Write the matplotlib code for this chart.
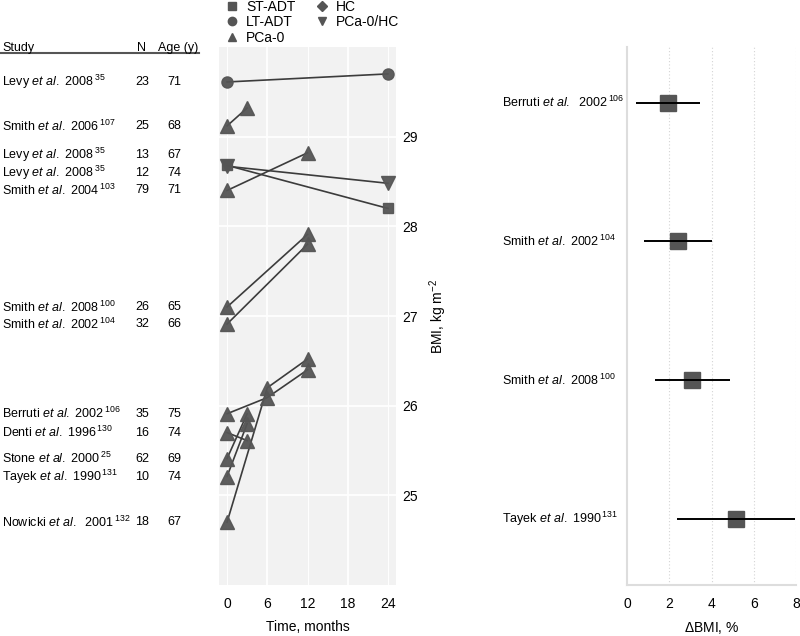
import matplotlib
matplotlib.use('Agg')
import matplotlib.pyplot as plt
from matplotlib.lines import Line2D


plt.rcParams['font.family'] = ['Liberation Sans', 'DejaVu Sans']
plt.rcParams['mathtext.fontset'] = 'custom'
plt.rcParams['mathtext.rm'] = 'Liberation Sans'
plt.rcParams['mathtext.it'] = 'Liberation Sans:italic'


# table rows (top to bottom)
authors = ['Levy', 'Smith', 'Levy', 'Levy', 'Smith', 'Smith', 'Smith',
           'Berruti', 'Denti', 'Stone', 'Tayek', 'Nowicki']
years = ['2008', '2006', '2008', '2008', '2004', '2008', '2002',
         '2002', '1996', '2000', '1990', '2001']
refs = ['35', '107', '35', '35', '103', '100', '104',
        '106', '130', '25', '131', '132']
n_patients = [23, 25, 13, 12, 79, 26, 32, 35, 16, 62, 10, 18]
ages = [71, 68, 67, 74, 71, 65, 66, 75, 74, 69, 74, 67]
row_nudge = [0, 0, 0.12, -0.07, 0, 0, 0, 0, 0, 0, 0, 0]

# BMI trajectories: months and values per study, with group
months = [
    [0, 24], [0, 3], [0, 24], [0, 24], [0, 12], [0, 12], [0, 12],
    [0, 6, 12], [0, 3], [0, 3], [0, 3], [0, 6, 12],
]
bmi = [
    [29.61, 29.70], [29.12, 29.32], [28.68, 28.20], [28.67, 28.48],
    [28.40, 28.82], [27.10, 27.91], [26.91, 27.80],
    [25.91, 26.09, 26.40], [25.70, 25.61], [25.41, 25.91],
    [25.21, 25.80], [24.70, 26.20, 26.52],
]
groups = ['LT-ADT', 'PCa-0', 'ST-ADT', 'PCa-0/HC', 'PCa-0', 'PCa-0', 'PCa-0',
          'PCa-0', 'PCa-0', 'PCa-0', 'PCa-0', 'PCa-0']

group_names = ['ST-ADT', 'LT-ADT', 'PCa-0', 'HC', 'PCa-0/HC']
group_markers = {'ST-ADT': 's', 'LT-ADT': 'o', 'PCa-0': '^',
                 'HC': 'D', 'PCa-0/HC': 'v'}
group_sizes = {'ST-ADT': 7, 'LT-ADT': 8, 'PCa-0': 9.5, 'HC': 7, 'PCa-0/HC': 9.5}

month_ticks = [0, 6, 12, 18, 24]
bmi_ticks = [25, 26, 27, 28, 29]

# forest plot
forest_labels = ['Berruti', 'Smith', 'Smith', 'Tayek']
forest_years = ['2002', '2002', '2008', '1990']
forest_refs = ['106', '104', '100', '131']
delta_bmi = [1.93, 2.40, 3.10, 5.14]
ci_low = [0.42, 0.80, 1.32, 2.36]
ci_high = [3.44, 4.00, 4.86, 7.97]
delta_ticks = [0, 2, 4, 6, 8]

W, H = 800, 636
fig = plt.figure(figsize=(8, 6.36), dpi=100)

mark_col = '#555555'
line_col = '#3c3c3c'


def fig_rect(x0, y0, x1, y1):
    return [x0 / W, 1 - y1 / H, (x1 - x0) / W, (y1 - y0) / H]


def study_label(author, year, ref, gap=' '):
    return author + r' $\mathit{et\ al.}$' + gap + year + r'$\,{}^{' + ref + '}$'


ax = fig.add_axes(fig_rect(219, 47, 396, 585))
ax_tab = fig.add_axes(fig_rect(0, 47, 219, 585), sharey=ax)
ax_f = fig.add_axes(fig_rect(627, 47, 796, 585))

# middle panel
ax.set_facecolor('#f2f2f2')
for t in month_ticks:
    ax.axvline(t, color='white', lw=1.3 if t in (6, 18) else 0.7, zorder=0)
for b in bmi_ticks:
    ax.axhline(b, color='white', lw=1.3, zorder=0)
for m, v, g in zip(months, bmi, groups):
    ax.plot(m, v, color=line_col, lw=1.2, zorder=2)
    ax.plot(m, v, ls='none', marker=group_markers[g], ms=group_sizes[g],
            color=mark_col, alpha=0.95, mec=mark_col, zorder=3)
ax.set_xlim(-1.2, 25.2)
ax.set_ylim(24, 30)
ax.set_xticks(month_ticks)
ax.set_yticks(bmi_ticks)
ax.yaxis.tick_right()
ax.yaxis.set_label_position('right')
ax.tick_params(length=0, labelsize=10)
ax.tick_params(axis='x', pad=9)
ax.tick_params(axis='y', pad=4.5)
ax.set_xlabel('Time, months', fontsize=10, labelpad=6)
ax.set_ylabel(r'BMI, kg m$^{-2}$', fontsize=10, rotation=90, labelpad=7)
for s in ax.spines.values():
    s.set_visible(False)

# table
ax_tab.set_xlim(0, 219)
ax_tab.axis('off')
for i in range(len(authors)):
    y = bmi[i][0] + row_nudge[i]
    gap = '  ' if authors[i] == 'Nowicki' else ' '
    ax_tab.text(2, y, study_label(authors[i], years[i], refs[i], gap),
                fontsize=9, va='center', ha='left')
    ax_tab.text(142, y, str(n_patients[i]), fontsize=9, va='center', ha='center')
    ax_tab.text(174, y, str(ages[i]), fontsize=9, va='center', ha='center')
ax_tab.text(2, 29.985, 'Study', fontsize=9, va='center', ha='left')
ax_tab.text(141, 29.985, 'N', fontsize=9, va='center', ha='center')
ax_tab.text(178, 29.985, 'Age (y)', fontsize=9, va='center', ha='center')
ax_tab.plot([0, 199], [29.93, 29.93], color='#555555', lw=1.5, clip_on=False)

# legend
handles = [Line2D([], [], ls='none', marker=group_markers[g], color=mark_col,
                  ms=6 if g != 'HC' else 5) for g in group_names]
fig.legend(handles, group_names, loc='upper left',
           bbox_to_anchor=(216 / W, 1 + 10 / H), ncol=2, frameon=False,
           fontsize=10, handlelength=0.9, handletextpad=0.55,
           labelspacing=0.1, columnspacing=1.5, borderpad=0.2)

# forest panel
ypos = [4, 3, 2, 1]
for t in delta_ticks[1:]:
    ax_f.axvline(t, color='#d4d4d4', lw=0.8, ls=(0, (1, 2)), zorder=0)
ax_f.plot(delta_bmi, ypos, ls='none', marker='s', ms=11, color=mark_col,
          zorder=2)
ax_f.hlines(ypos, ci_low, ci_high, color='black', lw=1.4, zorder=3)
ax_f.set_xlim(0, 8.0)
ax_f.set_ylim(0.525, 4.40)
ax_f.set_xticks(delta_ticks)
ax_f.set_yticks([])
ax_f.tick_params(length=0, labelsize=10, pad=9)
ax_f.set_xlabel(r'$\Delta$BMI, %', fontsize=10, labelpad=6)
for s in ('top', 'right'):
    ax_f.spines[s].set_visible(False)
for s in ('left', 'bottom'):
    ax_f.spines[s].set_color('#dddddd')
    ax_f.spines[s].set_linewidth(1.5)
for i, y in enumerate(ypos):
    gap = '  ' if forest_labels[i] == 'Berruti' else ' '
    ax_f.text(-125 / 21.1, y, study_label(forest_labels[i], forest_years[i],
                                        forest_refs[i], gap),
              fontsize=9, va='center', ha='left')

fig.savefig('out.png', dpi=100)
